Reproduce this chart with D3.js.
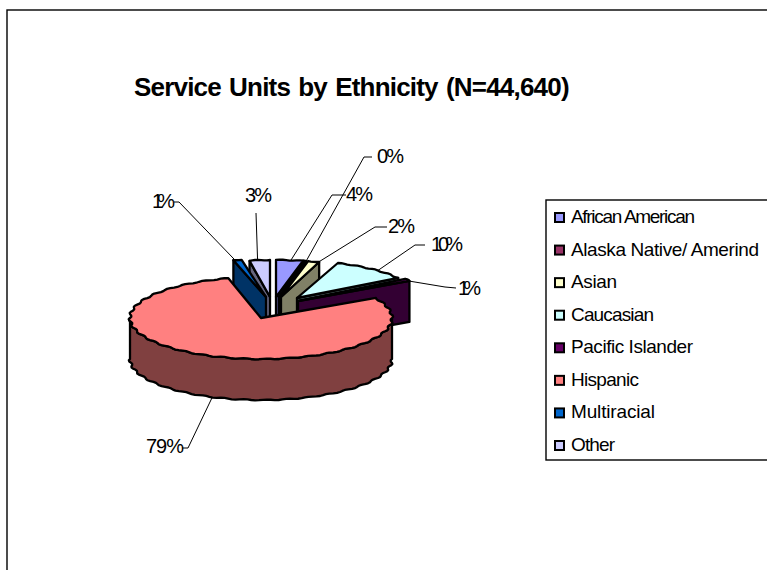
<!DOCTYPE html>
<html><head><meta charset="utf-8">
<script src="https://cdn.jsdelivr.net/npm/d3@7"></script>
<style>html,body{margin:0;padding:0;background:#fff}svg{display:block}text{font-family:"Liberation Sans",Arial,sans-serif;fill:#000}</style>
</head><body><svg id="c" width="767" height="570"></svg>
<script>
const titleText = "Service Units by Ethnicity (N=44,640)";
const categories = ["African American","Alaska Native/ Amerind","Asian","Caucasian","Pacific Islander","Hispanic","Multiracial","Other"];
const shares = [3.6,0.3,1.6,10.4,1,79.1,1,3];
const shareLabels = ["4%","0%","2%","10%","1%","79%","1%","3%"];
const colors = ["#9999FF","#993366","#FFFFCC","#CCFFFF","#660066","#FF8080","#0066CC","#CCCCFF"];

// layout, kept apart from the data
const apexX = [276,279,281,297,298,261,266,270];
const apexY = [297,297,297,298,301,318,297,297];
const radX  = [120,112,112,120,127,131,131,110];
const radY  = [37,37,37,37,41,41,38,37];
const depth = 41;
const labelX = [346,377,388,431,458,146,152,245];
const labelY = [201,163,233,251,295,453,208,202];
const labelLen = [27,27,27,32,23,38,23,27];
const elbowA = [[346,195],[372,157],[387,227],[425,245],[456,288],[182,448],[174,202],[256,213]];
const elbowB = [[332,195],[364,157],[375,227],[415,245],[445,287],[188,448],[179,202],[256,213]];
const leaderAngle = [0.55,1,0.95,0.6,1,0.495,0.2,0.4];
const legendLen = [124,188,46,83,122,68,84,44];
const drawOrder = [7,6,0,1,2,3,4,5];

const svg = d3.select("#c");
svg.append("rect").attr("x",7).attr("y",10).attr("width",800).attr("height",600)
  .attr("fill","#fff").attr("stroke","#000").attr("stroke-width",1.4);
svg.append("text").attr("x",134).attr("y",96).attr("font-size",26).attr("font-weight","bold")
  .attr("letter-spacing",-0.8).attr("word-spacing",1.75).text(titleText);

const arcs = d3.pie().sort(null).value(d=>d)(shares);
const line = d3.line();
const wobble = a => 1 + 0.01*Math.sin(a*38);
const edge = (i,a,dz=0,wavy=true) => {
  const w = wavy ? wobble(a) : 1;
  return [apexX[i] + Math.sin(a)*radX[i]*w, apexY[i] - Math.cos(a)*radY[i]*w + dz];
};
const sampled = (a0,a1) => d3.range(0,1.0001,1/Math.max(2,Math.ceil((a1-a0)/0.03))).map(t=>a0+(a1-a0)*t);
const side = c => { const r=d3.rgb(c); return d3.rgb(r.r*.5,r.g*.5,r.b*.5).formatHex(); };
const paint = (pts,fill) => svg.append("path").attr("d",line(pts)+"Z").attr("fill",fill)
  .attr("stroke","#000").attr("stroke-width",2.3).attr("stroke-linejoin","round");

drawOrder.forEach(i=>{
  const {startAngle:a0,endAngle:a1} = arcs[i];
  const ap=[apexX[i],apexY[i]], apB=[apexX[i],apexY[i]+depth];
  const dark=side(colors[i]);
  const angles=sampled(a0,a1);
  const wall=a=>[ap,edge(i,a),edge(i,a,depth),apB];
  if(a0>=Math.PI) paint(wall(a0),dark);
  if(a1<=Math.PI) paint(wall(a1),dark);
  const front=sampled(Math.max(a0,Math.PI/2),Math.min(a1,Math.PI*1.5));
  if(a0<Math.PI*1.5 && a1>Math.PI/2)
    paint(front.map(a=>edge(i,a)).concat(front.slice().reverse().map(a=>edge(i,a,depth))),dark);
  paint([ap].concat(angles.map(a=>edge(i,a))),colors[i]);
});

// leader lines and value labels
shareLabels.forEach((t,i)=>{
  const {startAngle:a0,endAngle:a1}=arcs[i];
  const anchor=edge(i,a0+(a1-a0)*leaderAngle[i],i===5?depth:0,false);
  svg.append("path").attr("d",line([elbowA[i],elbowB[i],anchor])).attr("fill","none")
    .attr("stroke","#000").attr("stroke-width",1);
  svg.append("text").attr("x",labelX[i]).attr("y",labelY[i]).attr("font-size",20)
    .attr("textLength",labelLen[i]).attr("lengthAdjust","spacing").text(t);
});

// legend
const legendY = d3.scalePoint().domain(categories).range([217,445]);
svg.append("rect").attr("x",546).attr("y",200).attr("width",260).attr("height",260)
  .attr("fill","#fff").attr("stroke","#000").attr("stroke-width",1.4);
categories.forEach((c,i)=>{
  svg.append("rect").attr("x",555).attr("y",legendY(c)-4).attr("width",9).attr("height",9)
    .attr("fill",colors[i]).attr("stroke","#000").attr("stroke-width",2);
  svg.append("text").attr("x",571).attr("y",legendY(c)+6).attr("font-size",19)
    .attr("textLength",legendLen[i]).attr("lengthAdjust","spacing").text(c);
});
</script></body></html>
